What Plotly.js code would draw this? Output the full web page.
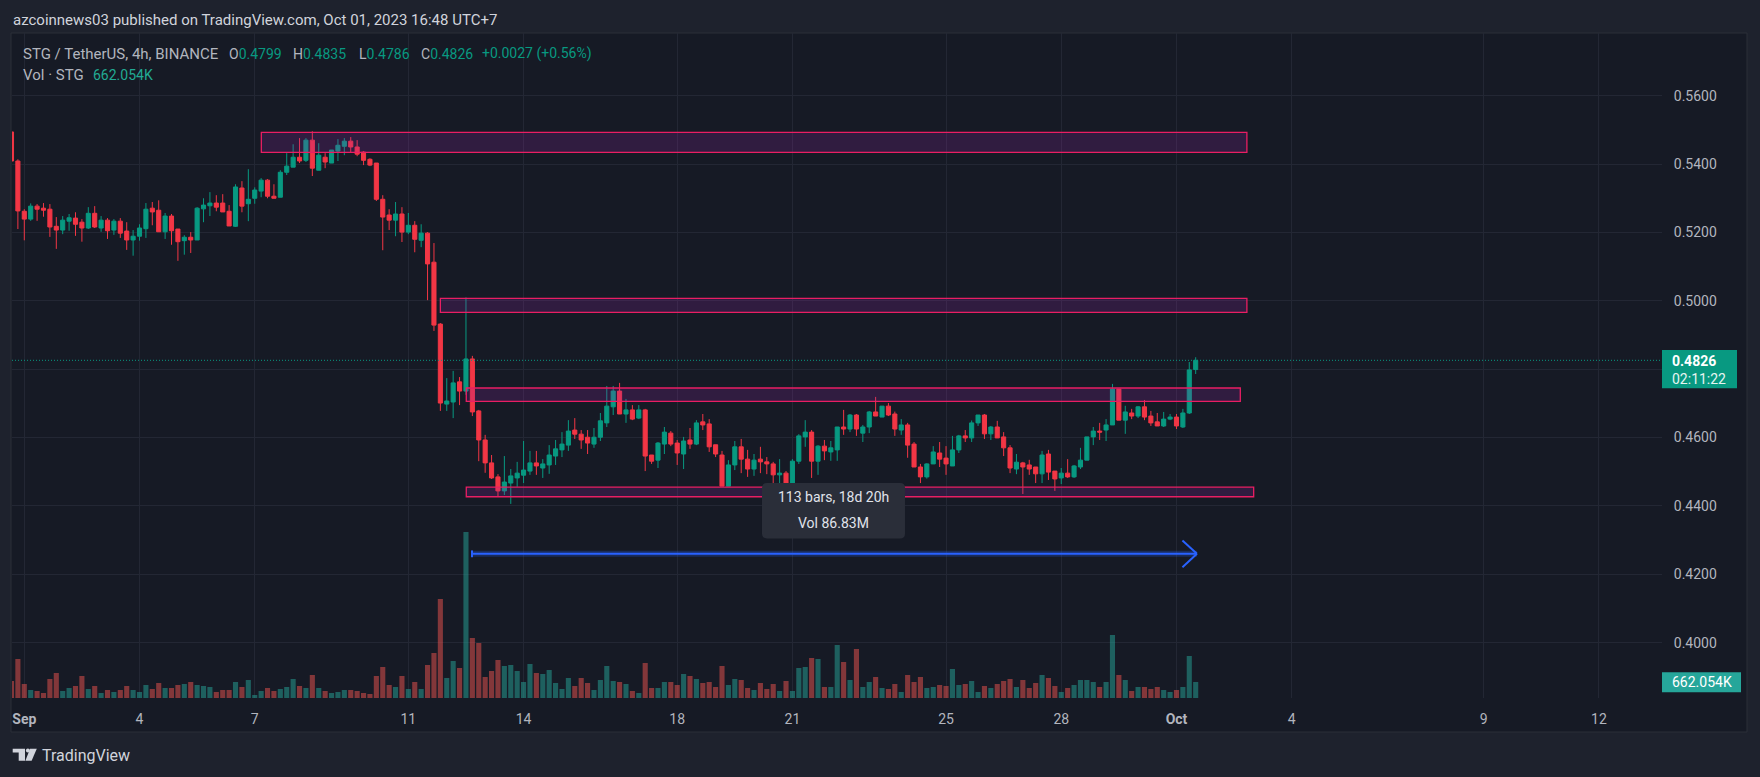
<!DOCTYPE html>
<html>
<head>
<meta charset="utf-8">
<script src="https://cdn.plot.ly/plotly-3.0.1.min.js"></script>
<style>
html,body{margin:0;padding:0;background:#1e222d;}
#chart{width:1760px;height:777px;}
</style>
</head>
<body>
<div id="chart"></div>
<script>
// ---------- DATA (STG/USDT 4h, Binance, times in UTC+7) ----------
// bar index 0 = 2023-09-01 03:00; first bar below is index -2
const firstBarIndex = -2;
const open = [
0.5494,0.5409,0.5262,0.5239,0.5277,0.5271,0.5268,0.5218,0.5207,0.5233,
0.5242,0.5230,0.5213,0.5256,0.5213,0.5236,0.5207,0.5233,0.5204,0.5178,
0.5189,0.5211,0.5271,0.5265,0.5202,0.5248,0.5210,0.5176,0.5186,0.5178,
0.5269,0.5278,0.5286,0.5286,0.5262,0.5218,0.5330,0.5284,0.5300,0.5321,
0.5353,0.5306,0.5303,0.5376,0.5391,0.5420,0.5411,0.5470,0.5382,0.5420,
0.5403,0.5438,0.5452,0.5467,0.5450,0.5435,0.5414,0.5403,0.5297,0.5251,
0.5236,0.5254,0.5201,0.5221,0.5177,0.5198,0.5113,0.4932,0.4698,0.4704,
0.4763,0.4736,0.4830,0.4678,0.4593,0.4526,0.4485,0.4444,0.4467,0.4482,
0.4490,0.4502,0.4526,0.4511,0.4520,0.4546,0.4564,0.4578,0.4622,0.4610,
0.4601,0.4581,0.4601,0.4643,0.4690,0.4736,0.4669,0.4681,0.4657,0.4681,
0.4549,0.4534,0.4581,0.4613,0.4584,0.4552,0.4593,0.4581,0.4646,0.4640,
0.4579,0.4549,0.4458,0.4520,0.4573,0.4537,0.4508,0.4537,0.4529,0.4523,
0.4491,0.4496,0.4464,0.4531,0.4602,0.4616,0.4531,0.4575,0.4558,0.4564,
0.4631,0.4625,0.4666,0.4613,0.4631,0.4675,0.4660,0.4692,0.4669,0.4622,
0.4637,0.4581,0.4514,0.4485,0.4523,0.4555,0.4540,0.4517,0.4564,0.4605,
0.4599,0.4643,0.4666,0.4611,0.4631,0.4602,0.4570,0.4508,0.4526,0.4520,
0.4514,0.4494,0.4552,0.4502,0.4482,0.4496,0.4485,0.4514,0.4534,0.4602,
0.4619,0.4622,0.4637,0.4742,0.4651,0.4672,0.4663,0.4690,0.4663,0.4646,
0.4634,0.4654,0.4660,0.4631,0.4672,0.4799];
const high = [
0.5500,0.5414,0.5268,0.5285,0.5283,0.5286,0.5283,0.5245,0.5248,0.5254,
0.5259,0.5239,0.5274,0.5277,0.5248,0.5242,0.5239,0.5242,0.5230,0.5207,
0.5224,0.5286,0.5289,0.5294,0.5257,0.5254,0.5210,0.5192,0.5201,0.5274,
0.5300,0.5318,0.5309,0.5312,0.5280,0.5341,0.5350,0.5385,0.5332,0.5359,
0.5356,0.5341,0.5382,0.5432,0.5458,0.5476,0.5476,0.5496,0.5461,0.5432,
0.5441,0.5473,0.5476,0.5479,0.5470,0.5438,0.5417,0.5403,0.5309,0.5268,
0.5289,0.5274,0.5257,0.5233,0.5224,0.5201,0.5169,0.4935,0.4774,0.4795,
0.4777,0.5010,0.4839,0.4681,0.4608,0.4549,0.4493,0.4546,0.4508,0.4529,
0.4590,0.4561,0.4561,0.4537,0.4578,0.4593,0.4616,0.4651,0.4657,0.4622,
0.4622,0.4628,0.4672,0.4751,0.4751,0.4760,0.4713,0.4695,0.4695,0.4684,
0.4549,0.4587,0.4631,0.4619,0.4593,0.4602,0.4628,0.4651,0.4669,0.4654,
0.4579,0.4561,0.4534,0.4590,0.4596,0.4564,0.4552,0.4573,0.4543,0.4529,
0.4537,0.4502,0.4537,0.4610,0.4651,0.4622,0.4578,0.4593,0.4590,0.4631,
0.4681,0.4669,0.4669,0.4637,0.4678,0.4719,0.4692,0.4701,0.4676,0.4654,
0.4643,0.4587,0.4523,0.4525,0.4575,0.4587,0.4575,0.4605,0.4608,0.4622,
0.4650,0.4666,0.4669,0.4634,0.4649,0.4616,0.4578,0.4552,0.4529,0.4535,
0.4514,0.4561,0.4564,0.4502,0.4511,0.4537,0.4520,0.4570,0.4602,0.4631,
0.4643,0.4654,0.4757,0.4742,0.4693,0.4684,0.4692,0.4710,0.4678,0.4672,
0.4675,0.4669,0.4669,0.4684,0.4821,0.4835];
const low = [
0.5405,0.5210,0.5177,0.5234,0.5234,0.5246,0.5187,0.5152,0.5195,0.5205,
0.5190,0.5173,0.5210,0.5213,0.5202,0.5181,0.5193,0.5184,0.5149,0.5132,
0.5176,0.5184,0.5221,0.5202,0.5181,0.5164,0.5117,0.5135,0.5140,0.5178,
0.5230,0.5248,0.5262,0.5260,0.5219,0.5216,0.5259,0.5233,0.5284,0.5303,
0.5300,0.5300,0.5303,0.5368,0.5391,0.5403,0.5406,0.5365,0.5382,0.5388,
0.5403,0.5409,0.5426,0.5435,0.5423,0.5397,0.5394,0.5292,0.5148,0.5207,
0.5189,0.5172,0.5195,0.5142,0.5157,0.5002,0.4912,0.4678,0.4678,0.4657,
0.4695,0.4725,0.4663,0.4531,0.4497,0.4479,0.4429,0.4432,0.4406,0.4456,
0.4467,0.4491,0.4491,0.4482,0.4494,0.4520,0.4543,0.4561,0.4596,0.4567,
0.4552,0.4570,0.4590,0.4631,0.4666,0.4669,0.4643,0.4651,0.4654,0.4502,
0.4523,0.4511,0.4552,0.4575,0.4520,0.4508,0.4567,0.4578,0.4622,0.4558,
0.4543,0.4458,0.4458,0.4505,0.4496,0.4485,0.4488,0.4496,0.4493,0.4464,
0.4467,0.4450,0.4458,0.4523,0.4573,0.4482,0.4491,0.4534,0.4532,0.4532,
0.4608,0.4616,0.4605,0.4587,0.4613,0.4663,0.4660,0.4663,0.4605,0.4608,
0.4541,0.4514,0.4467,0.4480,0.4523,0.4514,0.4491,0.4517,0.4555,0.4587,
0.4587,0.4634,0.4596,0.4593,0.4599,0.4546,0.4496,0.4493,0.4435,0.4491,
0.4467,0.4467,0.4476,0.4444,0.4464,0.4482,0.4482,0.4508,0.4534,0.4578,
0.4593,0.4590,0.4637,0.4651,0.4611,0.4654,0.4657,0.4651,0.4634,0.4634,
0.4631,0.4651,0.4625,0.4628,0.4669,0.4786];
const close = [
0.5409,0.5263,0.5239,0.5277,0.5268,0.5265,0.5216,0.5207,0.5236,0.5243,
0.5224,0.5213,0.5256,0.5216,0.5236,0.5205,0.5233,0.5198,0.5178,0.5189,
0.5213,0.5268,0.5260,0.5202,0.5248,0.5205,0.5173,0.5186,0.5178,0.5271,
0.5280,0.5286,0.5274,0.5260,0.5219,0.5333,0.5277,0.5297,0.5324,0.5353,
0.5306,0.5300,0.5376,0.5394,0.5420,0.5409,0.5470,0.5388,0.5426,0.5406,
0.5441,0.5455,0.5467,0.5450,0.5429,0.5411,0.5397,0.5297,0.5245,0.5236,
0.5254,0.5201,0.5221,0.5180,0.5198,0.5108,0.4929,0.4701,0.4707,0.4760,
0.4736,0.4830,0.4675,0.4593,0.4526,0.4482,0.4444,0.4470,0.4488,0.4496,
0.4505,0.4526,0.4517,0.4523,0.4549,0.4567,0.4581,0.4619,0.4610,0.4593,
0.4584,0.4601,0.4649,0.4692,0.4736,0.4669,0.4681,0.4654,0.4681,0.4546,
0.4531,0.4584,0.4616,0.4581,0.4555,0.4590,0.4581,0.4643,0.4637,0.4573,
0.4552,0.4458,0.4520,0.4573,0.4537,0.4508,0.4534,0.4529,0.4523,0.4491,
0.4496,0.4464,0.4531,0.4605,0.4616,0.4531,0.4575,0.4561,0.4570,0.4631,
0.4625,0.4666,0.4625,0.4631,0.4675,0.4663,0.4692,0.4666,0.4625,0.4637,
0.4578,0.4514,0.4485,0.4523,0.4558,0.4537,0.4523,0.4564,0.4605,0.4599,
0.4643,0.4666,0.4611,0.4631,0.4599,0.4570,0.4511,0.4528,0.4514,0.4508,
0.4494,0.4549,0.4499,0.4479,0.4496,0.4485,0.4517,0.4534,0.4602,0.4619,
0.4616,0.4637,0.4742,0.4651,0.4675,0.4663,0.4690,0.4660,0.4643,0.4634,
0.4654,0.4660,0.4634,0.4672,0.4798,0.4826];
// volume in thousands of STG
const volumeK = [
704,1615,580,331,290,207,787,1035,290,414,
497,911,373,497,207,331,248,331,497,331,
248,538,373,621,414,414,538,580,662,538,
497,455,248,331,331,662,455,745,124,290,
414,290,373,455,787,497,414,952,414,290,
207,248,331,331,290,207,166,911,1283,538,
455,911,373,662,373,1366,1863,4099,828,1532,
1242,6872,2484,2277,869,1118,1573,1325,1366,1118,
662,1408,1035,994,1159,621,373,828,497,828,
621,331,745,1325,704,662,580,290,207,1449,
414,414,662,662,538,994,911,787,621,662,
455,1325,538,787,745,414,331,621,373,580,
290,704,290,1242,1283,1656,1615,455,455,2194,
1490,745,2029,455,662,869,414,373,580,248,
952,662,869,414,455,538,497,1201,538,580,
704,248,497,414,580,704,787,455,745,414,
621,952,828,497,248,414,538,745,745,662,
455,662,2608,952,745,290,455,455,373,455,
331,248,331,455,1739,662.054];

const tickDates = ['2023-09-01 03:00','2023-09-04 03:00','2023-09-07 03:00','2023-09-11 03:00',
  '2023-09-14 03:00','2023-09-18 03:00','2023-09-21 03:00','2023-09-25 03:00','2023-09-28 03:00',
  '2023-10-01 03:00','2023-10-04 03:00','2023-10-09 03:00','2023-10-12 03:00'];
const tickLabels = ['<b>Sep</b>','4','7','11','14','18','21','25','28','<b>Oct</b>','4','9','12'];
const priceTicks = [0.40,0.42,0.44,0.46,0.48,0.50,0.52,0.54,0.56];
// the 0.4800 label is hidden behind the last-price badge in the original
const priceTickLabels = ['0.4000','0.4200','0.4400','0.4600','','0.5000','0.5200','0.5400','0.5600'];

// drawn zones (price top / bottom, bar index start / end)
const zoneTop    = [0.5493, 0.5007, 0.4745, 0.4455];
const zoneBottom = [0.5434, 0.4966, 0.4706, 0.4427];
const zoneFrom   = [37.03, 65.0, 69.05, 69.05];
const zoneTo     = [191.0, 191.0, 189.97, 192.06];
// range-measure arrow
const arrowPrice = 0.4260, arrowFrom = 69.94, arrowTo = 183.2;

// ---------- helpers ----------
const T0 = Date.UTC(2023, 8, 1, 3, 0, 0);
function barTime(i){ return new Date(T0 + i*4*3600000).toISOString().slice(0,19).replace('T',' '); }
const times = open.map((_, k) => barTime(k + firstBarIndex));
const L = 12, R = 1662, T = 33, B = 698;
const PX = x => (x - L) / (R - L);
const PY = y => (B - y) / (B - T);

const GREEN = '#089981', RED = '#f23645';
const volColors = close.map((c, k) => c >= open[k] ? 'rgba(38,166,154,0.5)' : 'rgba(239,83,80,0.5)');

const traces = [
  {type:'bar', x:times, y:volumeK, yaxis:'y2', marker:{color:volColors, line:{width:0}}, hoverinfo:'skip'},
  {type:'candlestick', x:times, open:open, high:high, low:low, close:close,
   increasing:{line:{color:GREEN, width:1}, fillcolor:GREEN},
   decreasing:{line:{color:RED, width:1}, fillcolor:RED},
   whiskerwidth:0, hoverinfo:'skip'}
];

function roundRectPath(x0,y0,x1,y1,r){
  const p=(x,y)=>PX(x).toFixed(6)+','+PY(y).toFixed(6);
  return 'M'+p(x0+r,y0)+' L'+p(x1-r,y0)+' Q'+p(x1,y0)+' '+p(x1,y0+r)+' L'+p(x1,y1-r)+' Q'+p(x1,y1)+' '+p(x1-r,y1)+
    ' L'+p(x0+r,y1)+' Q'+p(x0,y1)+' '+p(x0,y1-r)+' L'+p(x0,y0+r)+' Q'+p(x0,y0)+' '+p(x0+r,y0)+' Z';
}
function polyPath(pts){
  return 'M'+pts.map(q=>PX(q[0]).toFixed(6)+','+PY(q[1]).toFixed(6)).join(' L')+' Z';
}

const shapes = [];
// chart panel
shapes.push({type:'rect', xref:'paper', yref:'paper', x0:PX(11), x1:PX(1747), y0:PY(732), y1:PY(33),
  fillcolor:'#161a25', line:{color:'#2a2e39', width:1}, layer:'below'});
// zones
for (let k = 0; k < zoneTop.length; k++) {
  shapes.push({type:'rect', xref:'x', yref:'y', x0:barTime(zoneFrom[k]), x1:barTime(zoneTo[k]),
    y0:zoneBottom[k], y1:zoneTop[k], fillcolor:'rgba(156,39,176,0.2)', line:{color:'#e91e63', width:1.3}, layer:'above'});
}
// current price dotted line
shapes.push({type:'line', xref:'paper', yref:'y', x0:0, x1:1, y0:close[close.length-1], y1:close[close.length-1],
  line:{color:GREEN, width:1, dash:'1px,2px'}, layer:'above'});
// arrow
shapes.push({type:'line', xref:'x', yref:'y', x0:barTime(arrowFrom), x1:barTime(arrowTo), y0:arrowPrice, y1:arrowPrice,
  line:{color:'rgba(41,98,255,0.25)', width:6}, layer:'above'});
shapes.push({type:'line', xref:'x', yref:'y', x0:barTime(arrowFrom), x1:barTime(arrowTo), y0:arrowPrice, y1:arrowPrice,
  line:{color:'#2962ff', width:2}, layer:'above'});
shapes.push({type:'line', xref:'x', yref:'y', x0:barTime(arrowFrom), x1:barTime(arrowFrom), y0:arrowPrice-0.001, y1:arrowPrice+0.001,
  line:{color:'#2962ff', width:2}, layer:'above'});
shapes.push({type:'line', xref:'x', yref:'y', x0:barTime(arrowTo-2.27), x1:barTime(arrowTo), y0:arrowPrice+0.0039, y1:arrowPrice,
  line:{color:'#2962ff', width:2}, layer:'above'});
shapes.push({type:'line', xref:'x', yref:'y', x0:barTime(arrowTo-2.27), x1:barTime(arrowTo), y0:arrowPrice-0.0039, y1:arrowPrice,
  line:{color:'#2962ff', width:2}, layer:'above'});
// measure tooltip box
shapes.push({type:'path', xref:'paper', yref:'paper', path:roundRectPath(762,483,905,538.5,5),
  fillcolor:'#2a2e39', line:{width:0}, layer:'above'});
// price badges
shapes.push({type:'rect', xref:'paper', yref:'paper', x0:PX(1662), x1:PX(1737), y0:PY(388.3), y1:PY(350),
  fillcolor:'#089981', line:{width:0}, layer:'above'});
shapes.push({type:'rect', xref:'paper', yref:'paper', x0:PX(1662), x1:PX(1741), y0:PY(692.3), y1:PY(672.3),
  fillcolor:'#26a69a', line:{width:0}, layer:'above'});
// TradingView logo
shapes.push({type:'path', xref:'paper', yref:'paper', path:polyPath([[12.7,748.7],[25,748.7],[25,760.7],[18.7,760.7],[18.7,752.5],[12.7,752.5]]),
  fillcolor:'#d1d4dc', line:{width:0}, layer:'above'});
shapes.push({type:'circle', xref:'paper', yref:'paper', x0:PX(25.9), x1:PX(29.9), y0:PY(752.6), y1:PY(748.6),
  fillcolor:'#d1d4dc', line:{width:0}, layer:'above'});
shapes.push({type:'path', xref:'paper', yref:'paper', path:polyPath([[30,748.7],[36.8,748.7],[31.6,760.7],[25.4,760.7]]),
  fillcolor:'#d1d4dc', line:{width:0}, layer:'above'});

const FONT = 'Roboto, "Open Sans", sans-serif';
function ann(text, x, y, size, color, anchor, extra){
  return Object.assign({text:text, xref:'paper', yref:'paper', x:PX(x), y:PY(y), xanchor:anchor||'left', yanchor:'middle',
    showarrow:false, font:{family:FONT, size:size, color:color}, borderpad:0}, extra||{});
}
const V = '#089981', G = '#b2b5be';
const span = (c, t) => '<span style="color:'+c+'">'+t+'</span>';
const annotations = [
  ann('azcoinnews03 published on TradingView.com, Oct 01, 2023 16:48 UTC+7', 12, 20, 15, '#d1d4dc'),
  ann('STG / TetherUS, 4h, BINANCE', 22, 53.5, 15, G),
  ann('O'+span(V,'0.4799'), 227.5, 53.5, 14, G),
  ann('H'+span(V,'0.4835'), 292, 53.5, 14, G),
  ann('L'+span(V,'0.4786'), 357.5, 53.5, 14, G),
  ann('C'+span(V,'0.4826'), 420, 53.5, 14, G),
  ann('+0.0027 (+0.56%)', 481, 53.5, 14, V),
  ann('Vol · STG', 22, 75, 15, G),
  ann('662.054K', 92, 75, 14, '#22ab94'),
  ann('<b>0.4826</b><br>'+span('#e6f4f1','02:11:22'), 1671, 370, 14, '#ffffff', 'left', {align:'left'}),
  ann('662.054K', 1671, 682.3, 14, '#ffffff'),
  ann('113 bars, 18d 20h', 833.5, 497, 14, '#e0e3eb', 'center'),
  ann('Vol 86.83M', 833.5, 523, 14, '#e0e3eb', 'center'),
  ann('TradingView', 41, 755, 16, '#d1d4dc')
];

const layout = {
  width:1760, height:777,
  margin:{l:L, r:1760-R, t:T, b:777-B, pad:0},
  paper_bgcolor:'#1e222d', plot_bgcolor:'#161a25',
  showlegend:false, hovermode:false, dragmode:false,
  boxgap:0.2, boxgroupgap:0.2, bargap:0.2,
  font:{family:FONT, color:G, size:14},
  xaxis:{type:'date', range:[barTime(-1.92), barTime(255.85)], tickmode:'array', tickvals:tickDates, ticktext:tickLabels,
    tickangle:0, showgrid:true, gridcolor:'#232734', gridwidth:1, zeroline:false, showline:false,
    ticks:'outside', ticklen:8, tickcolor:'rgba(0,0,0,0)', tickfont:{family:FONT, size:14, color:G},
    rangeslider:{visible:false}, fixedrange:true},
  yaxis:{side:'right', range:[0.38383, 0.57834], tickmode:'array', tickvals:priceTicks, ticktext:priceTickLabels,
    showgrid:true, gridcolor:'#232734', gridwidth:1, zeroline:false, showline:false,
    ticks:'outside', ticklen:8, tickcolor:'rgba(0,0,0,0)', tickfont:{family:FONT, size:14, color:G}, fixedrange:true},
  yaxis2:{overlaying:'y', side:'right', range:[0, 665*41.4], visible:false, showgrid:false, fixedrange:true},
  shapes:shapes,
  annotations:annotations
};

Plotly.newPlot('chart', traces, layout, {staticPlot:true, displayModeBar:false});
</script>
</body>
</html>
